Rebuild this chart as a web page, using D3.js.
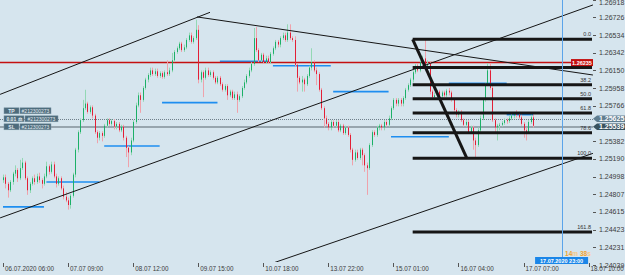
<!DOCTYPE html>
<html>
<head>
<meta charset="utf-8">
<script src="https://cdn.jsdelivr.net/npm/d3@7"></script>
<style>
  body { margin: 0; background: #d6e5ee; }
  svg { display: block; }
  text { font-family: "Liberation Sans", Arial, sans-serif; }
</style>
</head>
<body>
<div id="chart"></div>
<script>
// time axis (bar index of each label, H1 bars)
const timeLabels = ["06.07.2020 06:00", "07.07 09:00", "08.07 12:00", "09.07 15:00", "10.07 18:00",
  "13.07 22:00", "15.07 01:00", "16.07 04:00", "17.07 07:00", "18.07 10:00"];
const timeLabelBars = [0, 27, 54, 81, 108, 135, 162, 189, 216, 243];
// 1.25574 sits under the order tags, so it is not shown
const priceTicks = [1.26918, 1.26726, 1.26534, 1.26342, 1.26150, 1.25958, 1.25766,
  1.25382, 1.25190, 1.24998, 1.24807, 1.24615, 1.24423, 1.24231, 1.24039];

// GBPUSD H1 candles
const opens = [
  1.2496,1.2499,1.2492,1.2485,1.2494,1.2503,1.2507,1.2498,1.2509,1.2515,
  1.2498,1.2485,1.2492,1.2498,1.2494,1.2500,1.2496,1.2492,1.2500,1.2511,
  1.2505,1.2513,1.2500,1.2492,1.2498,1.2487,1.2478,1.2474,1.2469,1.2479,
  1.2502,1.2529,1.2548,1.2561,1.2574,1.2579,1.2570,1.2575,1.2566,1.2548,
  1.2542,1.2547,1.2544,1.2555,1.2561,1.2557,1.2560,1.2554,1.2557,1.2550,
  1.2554,1.2542,1.2531,1.2526,1.2539,1.2559,1.2577,1.2588,1.2583,1.2596,
  1.2605,1.2610,1.2615,1.2611,1.2614,1.2609,1.2612,1.2608,1.2613,1.2611,
  1.2615,1.2626,1.2635,1.2639,1.2644,1.2637,1.2640,1.2648,1.2653,1.2646,
  1.2650,1.2659,1.2605,1.2613,1.2607,1.2615,1.2610,1.2613,1.2607,1.2602,
  1.2607,1.2600,1.2594,1.2598,1.2588,1.2592,1.2585,1.2589,1.2583,1.2587,
  1.2596,1.2602,1.2609,1.2615,1.2622,1.2650,1.2637,1.2626,1.2632,1.2624,
  1.2628,1.2624,1.2633,1.2639,1.2646,1.2643,1.2650,1.2653,1.2648,1.2656,
  1.2650,1.2648,1.2621,1.2607,1.2602,1.2605,1.2600,1.2609,1.2618,1.2624,
  1.2615,1.2611,1.2594,1.2574,1.2563,1.2557,1.2553,1.2559,1.2555,1.2559,
  1.2550,1.2555,1.2547,1.2553,1.2545,1.2529,1.2518,1.2526,1.2520,1.2529,
  1.2523,1.2512,1.2509,1.2534,1.2548,1.2545,1.2553,1.2555,1.2553,1.2559,
  1.2556,1.2563,1.2574,1.2583,1.2579,1.2583,1.2579,1.2585,1.2594,1.2599,
  1.2605,1.2613,1.2620,1.2615,1.2624,1.2628,1.2620,1.2622,1.2592,1.2586,
  1.2588,1.2592,1.2587,1.2591,1.2588,1.2593,1.2591,1.2583,1.2572,1.2567,
  1.2570,1.2561,1.2556,1.2559,1.2548,1.2553,1.2539,1.2534,1.2550,1.2563,
  1.2583,1.2600,1.2615,1.2596,1.2561,1.2553,1.2555,1.2556,1.2558,1.2561,
  1.2560,1.2563,1.2566,1.2568,1.2567,1.2564,1.2557,1.2550,1.2548,1.2559,
  1.2564];
const highs = [
  1.2502,1.2502,1.2494,1.2496,1.2505,1.2512,1.2509,1.2518,1.2520,1.2517,
  1.2500,1.2494,1.2500,1.2502,1.2503,1.2504,1.2498,1.2503,1.2516,1.2513,
  1.2516,1.2516,1.2503,1.2500,1.2500,1.2490,1.2483,1.2477,1.2481,1.2504,
  1.2531,1.2550,1.2563,1.2583,1.2594,1.2581,1.2577,1.2577,1.2568,1.2550,
  1.2549,1.2549,1.2557,1.2563,1.2563,1.2562,1.2562,1.2559,1.2559,1.2556,
  1.2556,1.2544,1.2533,1.2542,1.2561,1.2580,1.2591,1.2591,1.2598,1.2607,
  1.2612,1.2618,1.2618,1.2617,1.2617,1.2614,1.2614,1.2615,1.2626,1.2618,
  1.2634,1.2637,1.2641,1.2646,1.2646,1.2643,1.2650,1.2656,1.2656,1.2652,
  1.2670,1.2664,1.2615,1.2615,1.2618,1.2618,1.2615,1.2615,1.2609,1.2609,
  1.2609,1.2602,1.2600,1.2600,1.2594,1.2594,1.2592,1.2592,1.2589,1.2598,
  1.2605,1.2611,1.2618,1.2624,1.2661,1.2662,1.2639,1.2634,1.2634,1.2631,
  1.2631,1.2635,1.2641,1.2648,1.2648,1.2652,1.2656,1.2656,1.2665,1.2665,
  1.2652,1.2652,1.2623,1.2609,1.2609,1.2607,1.2611,1.2620,1.2639,1.2626,
  1.2618,1.2613,1.2596,1.2576,1.2566,1.2559,1.2561,1.2561,1.2561,1.2561,
  1.2557,1.2557,1.2555,1.2555,1.2547,1.2531,1.2529,1.2529,1.2531,1.2531,
  1.2525,1.2515,1.2536,1.2550,1.2550,1.2555,1.2557,1.2557,1.2561,1.2561,
  1.2566,1.2576,1.2585,1.2585,1.2585,1.2585,1.2587,1.2596,1.2601,1.2607,
  1.2615,1.2622,1.2622,1.2626,1.2631,1.2649,1.2626,1.2624,1.2594,1.2591,
  1.2594,1.2594,1.2593,1.2593,1.2595,1.2596,1.2593,1.2585,1.2574,1.2572,
  1.2572,1.2563,1.2561,1.2561,1.2555,1.2555,1.2542,1.2553,1.2566,1.2585,
  1.2602,1.2623,1.2623,1.2598,1.2563,1.2557,1.2558,1.2560,1.2563,1.2563,
  1.2566,1.2568,1.2570,1.2572,1.2570,1.2567,1.2559,1.2553,1.2561,1.2567,
  1.2567];
const lows = [
  1.2493,1.2487,1.2477,1.2483,1.2491,1.2500,1.2494,1.2496,1.2507,1.2496,
  1.2480,1.2482,1.2490,1.2491,1.2492,1.2493,1.2487,1.2490,1.2498,1.2502,
  1.2503,1.2498,1.2488,1.2490,1.2485,1.2475,1.2472,1.2464,1.2465,1.2477,
  1.2499,1.2526,1.2546,1.2559,1.2572,1.2568,1.2568,1.2563,1.2546,1.2536,
  1.2539,1.2538,1.2542,1.2553,1.2555,1.2555,1.2551,1.2551,1.2548,1.2548,
  1.2539,1.2521,1.2510,1.2523,1.2537,1.2557,1.2575,1.2569,1.2581,1.2594,
  1.2602,1.2608,1.2609,1.2609,1.2607,1.2607,1.2606,1.2606,1.2609,1.2609,
  1.2613,1.2624,1.2633,1.2637,1.2635,1.2635,1.2638,1.2646,1.2644,1.2644,
  1.2648,1.2601,1.2602,1.2586,1.2605,1.2608,1.2608,1.2605,1.2600,1.2600,
  1.2598,1.2592,1.2592,1.2583,1.2586,1.2583,1.2583,1.2569,1.2581,1.2585,
  1.2594,1.2600,1.2607,1.2613,1.2620,1.2635,1.2624,1.2624,1.2622,1.2622,
  1.2622,1.2622,1.2631,1.2637,1.2640,1.2640,1.2648,1.2646,1.2646,1.2648,
  1.2646,1.2619,1.2592,1.2600,1.2592,1.2592,1.2598,1.2607,1.2615,1.2613,
  1.2599,1.2592,1.2572,1.2553,1.2555,1.2550,1.2550,1.2553,1.2553,1.2548,
  1.2548,1.2545,1.2545,1.2543,1.2526,1.2512,1.2516,1.2518,1.2518,1.2512,
  1.2505,1.2480,1.2507,1.2532,1.2543,1.2543,1.2550,1.2550,1.2550,1.2554,
  1.2554,1.2561,1.2572,1.2576,1.2576,1.2576,1.2576,1.2583,1.2592,1.2597,
  1.2602,1.2611,1.2613,1.2613,1.2622,1.2618,1.2615,1.2589,1.2583,1.2584,
  1.2586,1.2585,1.2585,1.2586,1.2586,1.2588,1.2581,1.2570,1.2564,1.2564,
  1.2559,1.2554,1.2554,1.2546,1.2546,1.2529,1.2520,1.2532,1.2548,1.2561,
  1.2581,1.2598,1.2594,1.2559,1.2547,1.2539,1.2550,1.2554,1.2556,1.2557,
  1.2558,1.2561,1.2563,1.2564,1.2562,1.2555,1.2542,1.2539,1.2548,1.2557,
  1.2553];
const closes = [
  1.2499,1.2492,1.2485,1.2494,1.2503,1.2507,1.2498,1.2509,1.2515,1.2498,
  1.2485,1.2492,1.2498,1.2494,1.2500,1.2496,1.2492,1.2500,1.2511,1.2505,
  1.2513,1.2500,1.2492,1.2498,1.2487,1.2478,1.2474,1.2469,1.2479,1.2502,
  1.2529,1.2548,1.2561,1.2574,1.2579,1.2570,1.2575,1.2566,1.2548,1.2542,
  1.2547,1.2544,1.2555,1.2561,1.2557,1.2560,1.2554,1.2557,1.2550,1.2554,
  1.2542,1.2531,1.2526,1.2539,1.2559,1.2577,1.2588,1.2583,1.2596,1.2605,
  1.2610,1.2615,1.2611,1.2614,1.2609,1.2612,1.2608,1.2613,1.2611,1.2615,
  1.2626,1.2635,1.2639,1.2644,1.2637,1.2640,1.2648,1.2653,1.2646,1.2650,
  1.2659,1.2605,1.2613,1.2607,1.2615,1.2610,1.2613,1.2607,1.2602,1.2607,
  1.2600,1.2594,1.2598,1.2588,1.2592,1.2585,1.2589,1.2583,1.2587,1.2596,
  1.2602,1.2609,1.2615,1.2622,1.2650,1.2637,1.2626,1.2632,1.2624,1.2628,
  1.2624,1.2633,1.2639,1.2646,1.2643,1.2650,1.2653,1.2648,1.2656,1.2650,
  1.2648,1.2621,1.2607,1.2602,1.2605,1.2600,1.2609,1.2618,1.2624,1.2615,
  1.2611,1.2594,1.2574,1.2563,1.2557,1.2553,1.2559,1.2555,1.2559,1.2550,
  1.2555,1.2547,1.2553,1.2545,1.2529,1.2518,1.2526,1.2520,1.2529,1.2523,
  1.2512,1.2509,1.2534,1.2548,1.2545,1.2553,1.2555,1.2553,1.2559,1.2556,
  1.2563,1.2574,1.2583,1.2579,1.2583,1.2579,1.2585,1.2594,1.2599,1.2605,
  1.2613,1.2620,1.2615,1.2624,1.2628,1.2620,1.2622,1.2592,1.2586,1.2588,
  1.2592,1.2587,1.2591,1.2588,1.2593,1.2591,1.2583,1.2572,1.2567,1.2570,
  1.2561,1.2556,1.2559,1.2548,1.2553,1.2539,1.2534,1.2550,1.2563,1.2583,
  1.2600,1.2615,1.2596,1.2561,1.2553,1.2555,1.2556,1.2558,1.2561,1.2560,
  1.2563,1.2566,1.2568,1.2567,1.2564,1.2557,1.2550,1.2548,1.2559,1.2564,
  1.2555];

// daily level segments [fromBar, toBar, price]
const dayLevels = [[0, 17, 1.2467], [18, 40, 1.2494], [42, 65, 1.2533], [66, 89, 1.2580], [90, 110, 1.2625],
  [112, 136, 1.2620], [137, 160, 1.2592], [161, 185, 1.2543], [185, 209, 1.2601], [209, 220, 1.2567]];
// trend lines, two anchor points each [bar, price]
const trendLines = [
  [[-1.2, 1.2589], [85.9, 1.2678]],
  [[80.5, 1.2673], [244.8, 1.2610]],
  [[-1.2, 1.2455], [244.8, 1.2686]],
  [[112, 1.2406], [244.8, 1.2525]]
];
const fibHigh = 1.26487, fibLow = 1.25196, fibFromBar = 170, fibToBar = 192.5;
const fibRatios = [0, 23.6, 38.2, 50, 61.8, 78.6, 100, 161.8];
// the 23.6 caption is covered by the red price tag
const fibNames = ["0.0", "", "38.2", "50.0", "61.8", "78.6", "100.0", "161.8"];
const hLine = 1.26235, orderPrice = 1.25625, bidPrice = 1.25539;
const orderTicket = "#212300273";
const cursorBar = 232, cursorLabel = "17.07.2020 23:00";

const width = 625, height = 275;
const plot = {left: 0, right: 593, top: 0, bottom: 262};

const svg = d3.select("#chart").append("svg")
  .attr("width", width).attr("height", height);
svg.append("rect").attr("width", width).attr("height", height).attr("fill", "#d6e5ee");

const x = d3.scaleLinear().domain([0, 243]).range([3, 588.6]);
const y = d3.scaleLinear().domain([1.24039, 1.26534]).range([265, 35]);

svg.append("clipPath").attr("id", "clip").append("rect")
  .attr("x", plot.left).attr("y", plot.top)
  .attr("width", plot.right - plot.left).attr("height", plot.bottom - plot.top);
const g = svg.append("g").attr("clip-path", "url(#clip)");

//Bid / order lines
g.append("line").attr("x1", plot.left).attr("x2", plot.right)
  .attr("y1", Math.round(y(orderPrice)) + 0.5).attr("y2", Math.round(y(orderPrice)) + 0.5)
  .attr("stroke", "#6f7f8a").attr("stroke-dasharray", "1,1");
g.append("line").attr("x1", plot.left).attr("x2", plot.right)
  .attr("y1", Math.round(y(bidPrice))).attr("y2", Math.round(y(bidPrice)))
  .attr("stroke", "#97a5ae").attr("stroke-width", 2);

//Daily levels
g.selectAll(".lvl").data(dayLevels).enter().append("line")
  .attr("x1", d => x(d[0])).attr("x2", d => x(d[1]))
  .attr("y1", d => y(d[2])).attr("y2", d => y(d[2]))
  .attr("stroke", "#1e8ef0").attr("stroke-width", 1.6);

//Horizontal red line
g.append("line").attr("x1", plot.left).attr("x2", 571)
  .attr("y1", y(hLine)).attr("y2", y(hLine))
  .attr("stroke", "#c41010").attr("stroke-width", 1.4);

//Candles
const bars = d3.range(opens.length);
const up = i => closes[i] >= opens[i];
g.selectAll(".wick").data(bars).enter().append("line")
  .attr("x1", i => Math.round(x(i)) + 0.5).attr("x2", i => Math.round(x(i)) + 0.5)
  .attr("y1", i => y(highs[i])).attr("y2", i => y(lows[i]))
  .attr("stroke", i => up(i) ? "#93d8b4" : "#efa2ab");
g.selectAll(".body").data(bars).enter().append("rect")
  .attr("x", i => Math.round(x(i)))
  .attr("y", i => y(Math.max(opens[i], closes[i])))
  .attr("width", 1)
  .attr("height", i => Math.max(1, Math.abs(y(opens[i]) - y(closes[i]))))
  .attr("fill", i => up(i) ? "#1cb068" : "#e21f36");

//Trend lines
g.selectAll(".trend").data(trendLines).enter().append("line")
  .attr("x1", d => x(d[0][0])).attr("y1", d => y(d[0][1]))
  .attr("x2", d => x(d[1][0])).attr("y2", d => y(d[1][1]))
  .attr("stroke", "#151515").attr("stroke-width", 1);

//Fibonacci
const fibPrice = r => fibHigh - (fibHigh - fibLow) * r / 100;
g.selectAll(".fib").data(fibRatios).enter().append("line")
  .attr("x1", x(fibFromBar)).attr("x2", plot.right - 1)
  .attr("y1", r => y(fibPrice(r))).attr("y2", r => y(fibPrice(r)))
  .attr("stroke", "#161616").attr("stroke-width", 3);
g.append("line")
  .attr("x1", x(fibFromBar)).attr("y1", y(fibHigh))
  .attr("x2", x(fibToBar)).attr("y2", y(fibLow))
  .attr("stroke", "#161616").attr("stroke-width", 3);
g.selectAll(".fibtxt").data(fibRatios.filter((r, i) => fibNames[i])).enter().append("text")
  .attr("x", plot.right - 2).attr("y", r => y(fibPrice(r)) - 3)
  .attr("text-anchor", "end").attr("font-size", 5.5).attr("fill", "#333")
  .text(r => fibNames[fibRatios.indexOf(r)]);

//Cursor line
g.append("line").attr("x1", Math.round(x(cursorBar)) + 0.5).attr("x2", Math.round(x(cursorBar)) + 0.5)
  .attr("y1", plot.top).attr("y2", plot.bottom)
  .attr("stroke", "#5ba4ea").attr("stroke-width", 1);

//Red price tag
const tagY = y(hLine);
svg.append("rect").attr("x", 571).attr("y", tagY - 3.5).attr("width", 22).attr("height", 7).attr("fill", "#c40f0f");
svg.append("text").attr("x", 582).attr("y", tagY + 2).attr("text-anchor", "middle")
  .attr("font-size", 5.5).attr("font-weight", "bold").attr("fill", "#fff").text(hLine.toFixed(5));

//Price axis
const yAxis = svg.append("g");
yAxis.selectAll("line").data(priceTicks).enter().append("line")
  .attr("x1", 593).attr("x2", 596)
  .attr("y1", d => Math.round(y(d)) + 0.5).attr("y2", d => Math.round(y(d)) + 0.5)
  .attr("stroke", "#555");
yAxis.selectAll("text").data(priceTicks).enter().append("text")
  .attr("x", 599).attr("y", d => Math.max(5, y(d) + 2.5))
  .attr("font-size", 7).attr("fill", "#3c3c3c")
  .text(d => d.toFixed(5));

//Order price tags on axis
[[orderPrice, "#5f7d8f"], [bidPrice, "#39535f"]].forEach(([p, c]) => {
  const yy = y(p);
  svg.append("path")
    .attr("d", `M593,${yy} L597,${yy - 3.2} L625,${yy - 3.2} L625,${yy + 3.2} L597,${yy + 3.2} Z`)
    .attr("fill", c);
  svg.append("text").attr("x", 599).attr("y", yy + 2.4)
    .attr("font-size", 7).attr("font-weight", "bold").attr("fill", "#fff").text(p.toFixed(5));
});

//Order labels on the left
const tags = [["TP", -8, 15, 31], ["0.01 \u2696", 0, 20, 33], ["SL", 8, 15, 31]];
tags.forEach(([name, off, w1, w2]) => {
  const yy = y(orderPrice) + off;
  svg.append("rect").attr("x", 4).attr("y", yy - 3).attr("width", w1).attr("height", 6)
    .attr("fill", "#4d6b7c").attr("stroke", "#7d97a6").attr("stroke-width", 0.5);
  svg.append("text").attr("x", 4 + w1 / 2).attr("y", yy + 2).attr("text-anchor", "middle")
    .attr("font-size", 5).attr("font-weight", "bold").attr("fill", "#e3ecf1").text(name);
  svg.append("rect").attr("x", 5 + w1).attr("y", yy - 3).attr("width", w2).attr("height", 6)
    .attr("fill", "#4d6b7c").attr("stroke", "#7d97a6").attr("stroke-width", 0.5);
  svg.append("text").attr("x", 5 + w1 + w2 / 2).attr("y", yy + 2).attr("text-anchor", "middle")
    .attr("font-size", 5).attr("fill", "#e3ecf1").text(orderTicket);
});

//Time axis
const xAxis = svg.append("g");
xAxis.selectAll("line").data(timeLabelBars).enter().append("line")
  .attr("x1", d => Math.round(x(d)) + 0.5).attr("x2", d => Math.round(x(d)) + 0.5)
  .attr("y1", 263).attr("y2", 267).attr("stroke", "#555");
xAxis.selectAll("text").data(timeLabelBars).enter().append("text")
  .attr("x", d => x(d) + 2).attr("y", 271)
  .attr("font-size", 6.3).attr("fill", "#3c3c3c")
  .text((d, i) => timeLabels[i]);

//Cursor time tag + countdown
const cx = x(cursorBar);
svg.append("rect").attr("x", cx - 27).attr("y", 257).attr("width", 53).attr("height", 7).attr("fill", "#1a86e8");
svg.append("text").attr("x", cx - 0.5).attr("y", 262.5).attr("text-anchor", "middle")
  .attr("font-size", 5.5).attr("font-weight", "bold").attr("fill", "#fff").text(cursorLabel);
const cd = svg.append("text").attr("x", cx + 3).attr("y", 255.5).attr("font-size", 6.5).attr("font-weight", "bold");
cd.append("tspan").attr("fill", "#f0a32e").text("14");
cd.append("tspan").attr("fill", "#f6c985").text("m ");
cd.append("tspan").attr("fill", "#f0a32e").text("38");
cd.append("tspan").attr("fill", "#f6c985").text("s");
</script>
</body>
</html>
